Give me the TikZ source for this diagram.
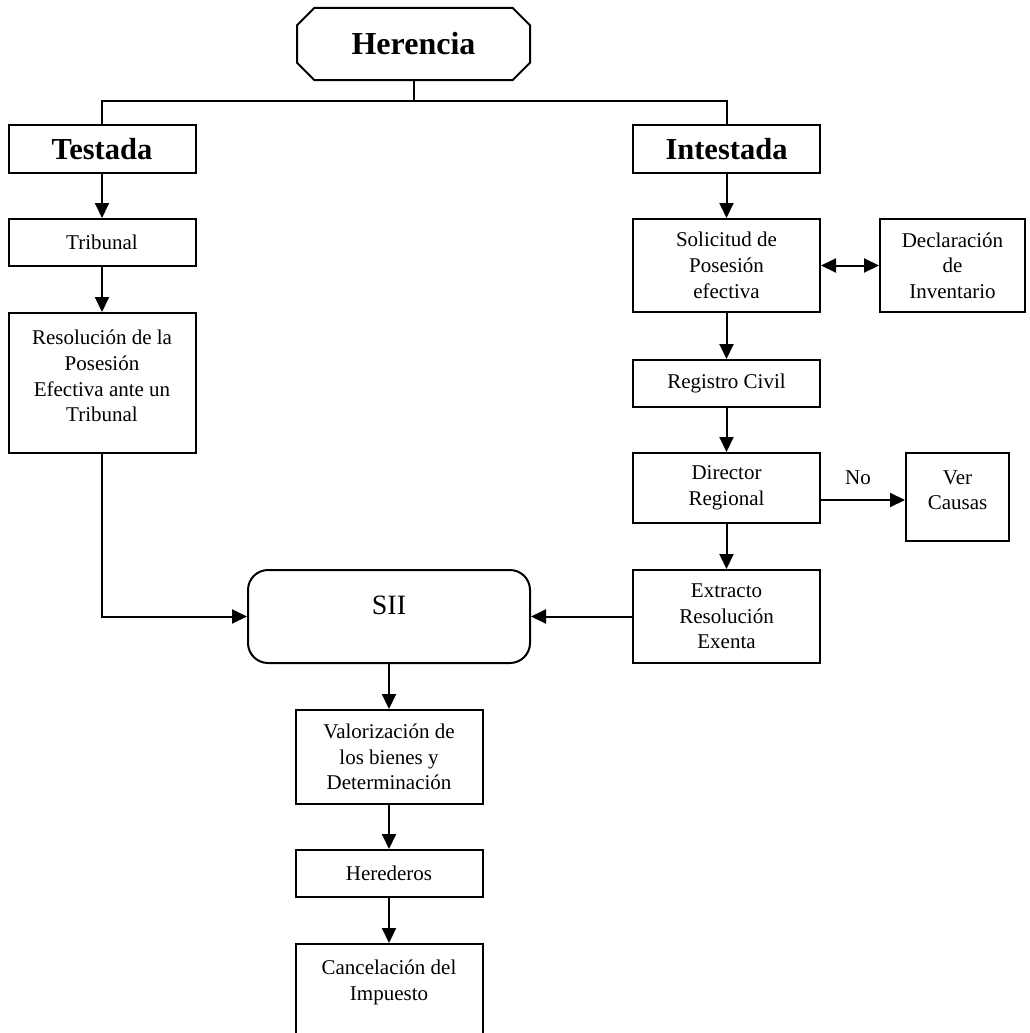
\documentclass[tikz,border=0pt]{standalone}
\usepackage{fontspec}
\setmainfont{Liberation Serif}
\usetikzlibrary{positioning}
\usetikzlibrary{shapes.misc}
\usetikzlibrary{arrows.meta}

\begin{document}
\begin{tikzpicture}[x=1pt,y=-1pt,line width=2pt,font=\fontsize{21}{25.7}\selectfont,
  box/.style={draw,rectangle,align=center,minimum width=187pt,inner sep=3pt},
  title/.style={box,font=\bfseries\fontsize{30.5}{34}\selectfont,minimum height=48pt},
  arr/.style={-{Triangle[length=15pt,width=14pt]}},
  darr/.style={{Triangle[length=15pt,width=14pt]}-{Triangle[length=15pt,width=14pt]}},
  node distance=44pt]
\clip (0,0) rectangle (1029,1033);
\node[box,chamfered rectangle,chamfered rectangle xsep=18pt,minimum width=233pt,minimum height=72pt,font=\bfseries\fontsize{32}{38}\selectfont] (herencia) at (413.5,44) {Herencia};
\node[title] (testada) at (102,149) {Testada};
\node[title] (intestada) at (726.5,149) {Intestada};
\node[box,minimum height=47pt,below=of testada] (tribunal) {Tribunal};
\node[box,minimum height=140pt,text depth=14pt,below=45pt of tribunal] (resolucion) {Resolución de la\\Posesión\\Efectiva ante un\\Tribunal};
\node[box,minimum height=93pt,below=of intestada] (solicitud) {Solicitud de\\Posesión\\efectiva};
\node[box,minimum width=145pt,minimum height=93pt,right=58pt of solicitud] (declaracion) {Declaración\\de\\Inventario};
\node[box,minimum height=47pt,below=46pt of solicitud] (registro) {Registro Civil};
\node[box,minimum height=70pt,below=of registro] (director) {Director\\Regional};
\node[box,minimum width=103pt,minimum height=88pt,text depth=14pt,below right=0pt and 84pt of director.north east] (causas) {Ver\\Causas};
\node[box,minimum height=93pt,below=45pt of director] (extracto) {Extracto\\Resolución\\Exenta};
\node[box,rounded corners=20pt,minimum width=282pt,minimum height=93pt,text depth=22pt,font=\fontsize{28}{34}\selectfont,left=101pt of extracto] (sii) {SII};
\node[box,minimum height=94pt,below=45pt of sii] (valorizacion) {Valorización de\\los bienes y\\Determinación};
\node[box,minimum height=47pt,below=of valorizacion] (herederos) {Herederos};
\node[box,minimum height=96pt,text depth=23pt,below=45pt of herederos] (cancelacion) {Cancelación del\\Impuesto};

\coordinate[below=20pt of herencia.south] (fork);
\draw (herencia.south) -- (fork);
\draw (testada.north) |- (fork) -| (intestada.north);
\draw[arr] (testada) -- (tribunal);
\draw[arr] (tribunal) -- (resolucion);
\draw[arr] (resolucion.south) |- (sii.west);
\draw[arr] (intestada) -- (solicitud);
\draw[darr] (solicitud) -- (declaracion);
\draw[arr] (solicitud) -- (registro);
\draw[arr] (registro) -- (director);
\draw[arr] (director) -- (extracto);
\draw[arr] ([yshift=-12pt]director.east) -- ([yshift=-12pt]director.east -| causas.west) node[midway,above=11pt,xshift=-5pt]{No};
\draw[arr] (extracto) -- (sii);
\draw[arr] (sii) -- (valorizacion);
\draw[arr] (valorizacion) -- (herederos);
\draw[arr] (herederos) -- (cancelacion);
\end{tikzpicture}
\end{document}
